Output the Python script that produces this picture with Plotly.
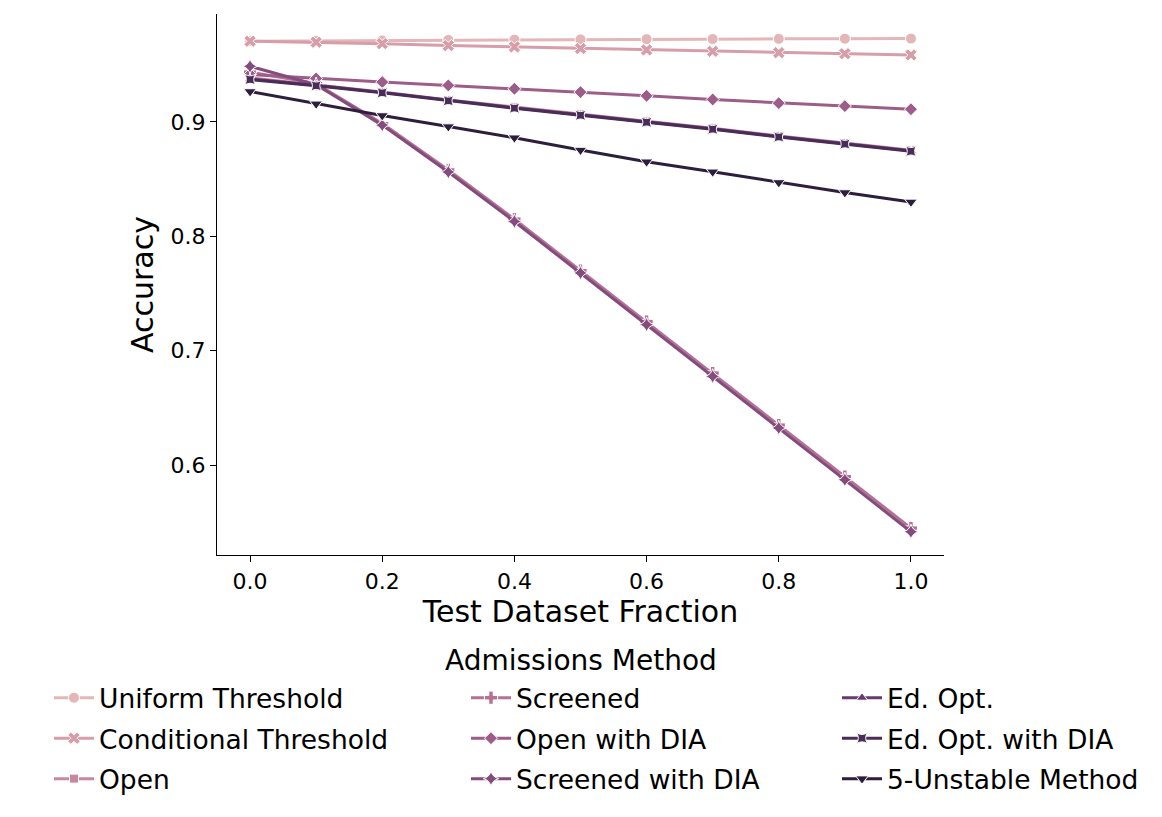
import numpy as np
import plotly.graph_objects as go

# ---------------- data ----------------
fractions = [0.0, 0.1, 0.2, 0.3, 0.4, 0.5, 0.6, 0.7, 0.8, 0.9, 1.0]

methods = [
    "Uniform Threshold", "Conditional Threshold", "Open", "Screened",
    "Open with DIA", "Screened with DIA", "Ed. Opt.", "Ed. Opt. with DIA",
    "5-Unstable Method",
]

uniform_threshold = [0.9705, 0.9708, 0.9712, 0.9716, 0.9719, 0.9721, 0.9723, 0.9724, 0.9726, 0.9727, 0.9728]
conditional_threshold = [0.9705, 0.9696, 0.9684, 0.9667, 0.9655, 0.9641, 0.9629, 0.9617, 0.9605, 0.9596, 0.9585]
open_ = [0.9384, 0.9325, 0.9262, 0.9192, 0.9128, 0.9066, 0.9005, 0.8944, 0.8876, 0.8815, 0.8752]
screened = [0.9435, 0.9335, 0.8985, 0.8580, 0.8150, 0.7700, 0.7255, 0.6805, 0.6350, 0.5900, 0.5450]
open_with_dia = [0.9415, 0.9380, 0.9348, 0.9319, 0.9290, 0.9260, 0.9228, 0.9196, 0.9164, 0.9138, 0.9111]
screened_with_dia = [0.9486, 0.9325, 0.8972, 0.8562, 0.8130, 0.7680, 0.7228, 0.6776, 0.6325, 0.5872, 0.5418]
ed_opt = [0.9376, 0.9321, 0.9258, 0.9188, 0.9124, 0.9062, 0.9001, 0.8940, 0.8872, 0.8811, 0.8748]
ed_opt_with_dia = [0.9370, 0.9316, 0.9254, 0.9184, 0.9120, 0.9058, 0.8997, 0.8936, 0.8868, 0.8806, 0.8743]
five_unstable = [0.9266, 0.9158, 0.9056, 0.8959, 0.8862, 0.8754, 0.8652, 0.8564, 0.8471, 0.8383, 0.8301]

series = [uniform_threshold, conditional_threshold, open_, screened, open_with_dia,
          screened_with_dia, ed_opt, ed_opt_with_dia, five_unstable]

x_ticks = [0.0, 0.2, 0.4, 0.6, 0.8, 1.0]
y_ticks = [0.6, 0.7, 0.8, 0.9]

# ---------------- style ----------------
def cubehelix(x, start=0.0, rot=0.4, hue=0.8):
    phi = 2 * np.pi * (start / 3 + rot * x)
    amp = hue * x * (1 - x) / 2
    r = x + amp * (-0.14861 * np.cos(phi) + 1.78277 * np.sin(phi))
    g = x + amp * (-0.29227 * np.cos(phi) - 0.90649 * np.sin(phi))
    b = x + amp * (1.97294 * np.cos(phi))
    c = np.clip([r, g, b], 0, 1)
    return "rgb(%d,%d,%d)" % tuple(int(round(v * 255)) for v in c)

colors = [cubehelix(v) for v in np.linspace(0.77, 0.15, 9)]
symbols = ["circle", "x", "square", "cross", "diamond", "star-diamond",
           "triangle-up", "star-square", "triangle-down"]
sizes = [11, 11, 9, 11, 10, 11, 10, 10, 11]
legend_ids = ["legend"] * 3 + ["legend2"] * 3 + ["legend3"] * 3

FONT = "DejaVu Sans"
fig = go.Figure()
for i, (name, ys) in enumerate(zip(methods, series)):
    fig.add_trace(go.Scatter(
        x=fractions, y=ys, name=name, mode="lines+markers",
        line=dict(color=colors[i], width=3),
        marker=dict(symbol=symbols[i], size=sizes[i], color=colors[i],
                    line=dict(color="white", width=1)),
        legend=legend_ids[i], legendgroup=name,
    ))

OFF = 8  # page body offset
W, H = 1162 - 2 * OFF, 817 - 2 * OFF
L, T = 217 - OFF, 14 - OFF
pw, ph = 727, 541
R, B = W - L - pw, H - T - ph

def px(xp):  # page pixel -> paper x
    return (xp - OFF - L) / pw

def py(yp):  # page pixel -> paper y
    return (T + ph - (yp - OFF)) / ph

leg_common = dict(font=dict(family=FONT, size=26.5, color="black"), bgcolor="rgba(0,0,0,0)",
                  yanchor="top", xanchor="left", tracegroupgap=3, itemwidth=40)
fig.update_layout(
    width=W, height=H,
    margin=dict(l=L, r=R, t=T, b=B, autoexpand=False),
    plot_bgcolor="white", paper_bgcolor="white",
    font=dict(family=FONT, size=22, color="black"),
    xaxis=dict(range=[-0.05, 1.05], tickvals=x_ticks, tickformat=".1f",
               showline=True, linecolor="black", linewidth=1.2, mirror=False,
               ticks="outside", ticklen=6, tickwidth=1.2, tickcolor="black",
               showgrid=False, zeroline=False,
               title=dict(text="Test Dataset Fraction", font=dict(size=30), standoff=6)),
    yaxis=dict(range=[0.5215, 0.9943], tickvals=y_ticks, tickformat=".1f",
               showline=True, linecolor="black", linewidth=1.2, mirror=False,
               ticks="outside", ticklen=6, tickwidth=1.2, tickcolor="black",
               showgrid=False, zeroline=False,
               title=dict(text="Accuracy", font=dict(size=30), standoff=8)),
    legend=dict(x=px(49), y=py(674), **leg_common),
    legend2=dict(x=px(466), y=py(674), **leg_common),
    legend3=dict(x=px(837), y=py(674), **leg_common),
    annotations=[dict(text="Admissions Method", x=px(581), y=py(660), xref="paper", yref="paper",
                      showarrow=False, xanchor="center", yanchor="middle",
                      font=dict(family=FONT, size=28, color="black"))],
)

fig.write_html("out.html")
